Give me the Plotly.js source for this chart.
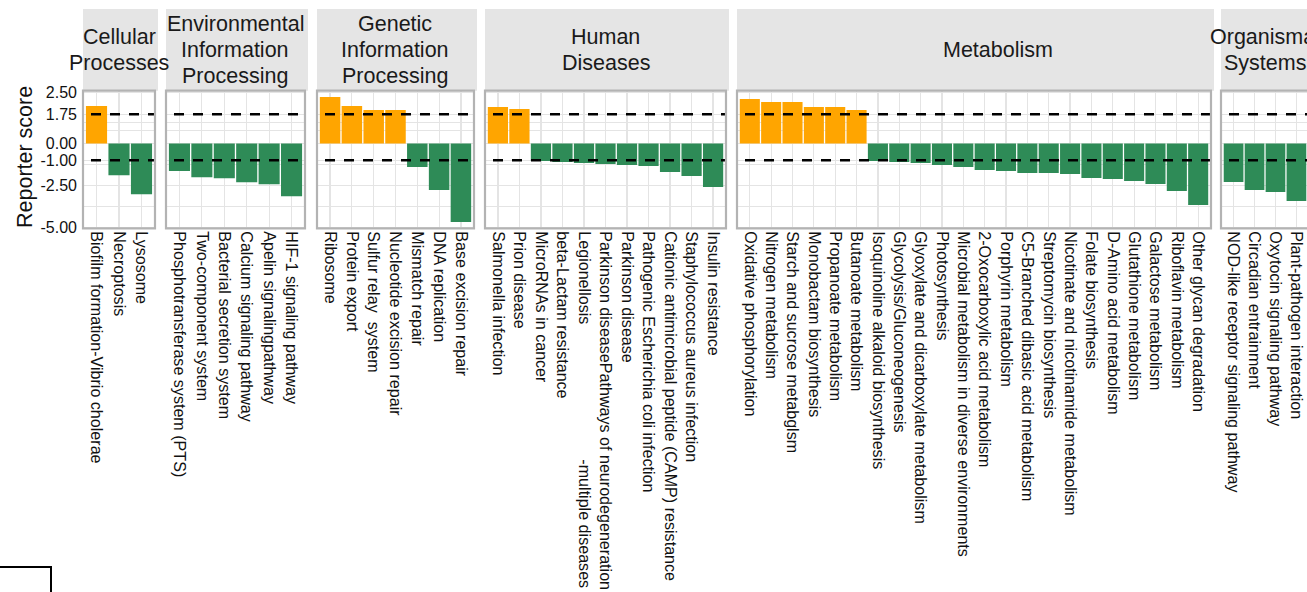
<!DOCTYPE html>
<html>
<head>
<meta charset="utf-8">
<script src="https://cdn.plot.ly/plotly-3.0.1.min.js"></script>
<style>
html,body{margin:0;padding:0;background:#fff;}
#chart{width:1307px;height:592px;}
</style>
</head>
<body>
<div id="chart"></div>
<script>
// ---------------- data ----------------
const groupNames = ['Cellular\nProcesses', 'Environmental\nInformation\nProcessing', 'Genetic\nInformation\nProcessing', 'Human\nDiseases', 'Metabolism', 'Organismal\nSystems'];

const cellularPathways = ['Biofilm formation-Vibrio cholerae', 'Necroptosis', 'Lysosome'];
const cellularScores = [2.24, -1.90, -3.04];

const environmentalPathways = ['Phosphotransferase system (PTS)', 'Two-component system', 'Bacterial secretion system', 'Calcium signaling pathway', 'Apelin signalingpathway', 'HIF-1 signaling pathway'];
const environmentalScores = [-1.64, -2.02, -2.08, -2.32, -2.44, -3.16];

const geneticPathways = ['Ribosome', 'Protein export', 'Sulfur relay  system', 'Nucleotide excision repair', 'Mismatch repair', 'DNA replication', 'Base excision repair'];
const geneticScores = [2.79, 2.24, 2.00, 2.00, -1.40, -2.78, -4.70];

const humanPathways = ['Salmonella infection', 'Prion disease', 'MicroRNAs in cancer', 'beta-Lactam resistance', 'Legionellosis', 'Parkinson diseasePathways of neurodegeneration\n-multiple diseases', 'Parkinson disease', 'Pathogenic Escherichia coli infection', 'Cationic antimicrobial peptide (CAMP) resistance', 'Staphylococcus aureus infection', 'Insulin resistance'];
const humanScores = [2.18, 2.06, -1.04, -1.10, -1.16, -1.22, -1.28, -1.34, -1.70, -1.94, -2.60];

const metabolismPathways = ['Oxidative phosphorylation', 'Nitrogen metabolism', 'Starch and sucrose metabglsm', 'Monobactam biosynthesis', 'Propanoate metabolism', 'Butanoate metabolism', 'Isoquinoline alkaloid biosynthesis', 'Glycolysis/Gluconeogenesis', 'Glyoxylate and dicarboxylate metabolism', 'Photosynthesis', 'Microbial metabolism in diverse environments', '2-Oxocarboxylic acid metabolism', 'Porphyrin metabolism', 'C5-Branched dibasic acid metabolism', 'Streptomycin biosynthesis', 'Nicotinate and nicotinamide metabolism', 'Folate biosynthesis', 'D-Amino acid metabolism', 'Glutathione metabolism', 'Galactose metabolism', 'Riboflavin metabolism', 'Other glycan degradation'];
const metabolismScores = [2.66, 2.48, 2.48, 2.18, 2.18, 2.00, -1.04, -1.10, -1.16, -1.28, -1.40, -1.58, -1.64, -1.76, -1.76, -1.82, -2.06, -2.12, -2.24, -2.42, -2.84, -3.68];

const organismalPathways = ['NOD-like receptor signaling pathway', 'Circadian entrainment', 'Oxytocin signaling pathway', 'Plant-pathogen interaction'];
const organismalScores = [-2.30, -2.78, -2.90, -3.44];

const yTickLabels = ['2.50', '1.75', '0.00', '-1.00', '-2.50', '-5.00'];
const thresholds = [1.75, -1.00];

// ---------------- layout helpers ----------------
const W = 1307, H = 592;
const FONT = '"Liberation Sans", Arial, Helvetica, sans-serif';
const TICK_SIZE = 16.1;
const STRIP_SIZE = 21.5;
const STRIP_LINE = 26;
const UP = '#FFA500', DOWN = '#2E8B57';

const groups = [
  {names: cellularPathways, vals: cellularScores},
  {names: environmentalPathways, vals: environmentalScores},
  {names: geneticPathways, vals: geneticScores},
  {names: humanPathways, vals: humanScores},
  {names: metabolismPathways, vals: metabolismScores},
  {names: organismalPathways, vals: organismalScores}
];
const panelLeft = [83, 166, 317, 485, 737, 1221];
const panelRight = [155, 305, 474, 726, 1211, 1309];
const stripTextX = [119, 235.5, 395.5, 605.5, 998, 1265];
const panelTop = 90.7, panelBottom = 228.3;
const stripTop = 9;
const yRange = [-5.07, 3.16];
const yTickPos = [3.06, 1.75, 0, -1, -2.5, -5];

const canvas = document.createElement('canvas');
const ctx = canvas.getContext('2d');
ctx.font = TICK_SIZE + 'px ' + FONT;
function fmtLabel(s) {
  const lines = s.split('\n');
  if (lines.length === 1) return s.replace(/  /g, ' \u00A0');
  const w0 = ctx.measureText(lines[0]).width;
  const wn = ctx.measureText('\u00A0').width || TICK_SIZE * 0.278;
  const padded = lines.map((l, i) => {
    if (i === 0) return l;
    const n = Math.max(0, Math.round((w0 - ctx.measureText(l).width) / wn));
    return '\u00A0'.repeat(n) + l;
  });
  // a blank leading line keeps the first text line on the tick
  return ['\u00A0'].concat(padded).join('<br>');
}

const px2x = p => p / W;
const px2y = p => 1 - p / H;

const data = [];
const layout = {
  width: W, height: H,
  margin: {l: 0, r: 0, t: 0, b: 0, pad: 0},
  paper_bgcolor: '#FFFFFF',
  plot_bgcolor: '#FFFFFF',
  showlegend: false,
  bargap: 0.06,
  font: {family: FONT, color: '#111111'},
  shapes: [],
  annotations: [],
  yaxis: {
    domain: [px2y(panelBottom), px2y(panelTop)],
    range: yRange,
    tickvals: yTickPos,
    ticktext: yTickLabels,
    tickfont: {size: 16, color: '#111111', family: FONT},
    ticks: '',
    ticklabelstandoff: 5,
    showgrid: true,
    gridcolor: '#E4E4E4',
    gridwidth: 1.2,
    zeroline: false,
    showline: false,
    automargin: false,
    fixedrange: true,
    minor: {tickvals: [1.25, 0.75, -1.25, -3.75], showgrid: true, gridcolor: '#E4E4E4', gridwidth: 1, ticks: ''}
  }
};

groups.forEach((g, i) => {
  const n = g.names.length;
  const left = panelLeft[i];
  const right = panelRight[i];
  const unit = (right - left) / (n + 0.2);
  const domRight = Math.min(right, W);
  const rEnd = -0.6 + (domRight - left) / unit;
  const axName = i === 0 ? 'xaxis' : 'xaxis' + (i + 1);
  const axRef = i === 0 ? 'x' : 'x' + (i + 1);
  const labels = g.names.map(fmtLabel);

  data.push({
    type: 'bar',
    x: labels,
    y: g.vals,
    xaxis: axRef,
    yaxis: 'y',
    marker: {color: g.vals.map(v => v >= 0 ? UP : DOWN), line: {width: 0}},
    hoverinfo: 'x+y'
  });

  layout[axName] = {
    domain: [px2x(left), px2x(domRight)],
    anchor: 'y',
    type: 'category',
    range: [-0.6, rEnd],
    tickangle: 90,
    tickfont: {size: TICK_SIZE, color: '#111111', family: FONT},
    ticks: '',
    ticklabelstandoff: 2,
    showgrid: true,
    gridcolor: '#E4E4E4',
    gridwidth: 1.2,
    zeroline: false,
    showline: false,
    automargin: false,
    fixedrange: true
  };

  // strip background
  layout.shapes.push({
    type: 'rect', xref: 'paper', yref: 'paper', layer: 'below',
    x0: px2x(left), x1: px2x(right + 3), y0: px2y(panelTop), y1: px2y(stripTop),
    fillcolor: '#E5E5E5', line: {width: 0}
  });
  // strip text, one line at a time for ggplot-like line spacing
  const lines = groupNames[i].split('\n');
  lines.forEach((ln, k) => {
    layout.annotations.push({
      xref: 'paper', yref: 'paper',
      x: px2x(stripTextX[i]), y: px2y(50 + (k - (lines.length - 1) / 2) * STRIP_LINE),
      xanchor: 'center', yanchor: 'middle',
      text: ln,
      showarrow: false,
      font: {size: STRIP_SIZE, color: '#1A1A1A', family: FONT}
    });
  });
  // threshold dashed lines
  thresholds.forEach(t => {
    layout.shapes.push({
      type: 'line', xref: axRef + ' domain', yref: 'y', layer: 'above',
      x0: 0, x1: 1, y0: t, y1: t,
      line: {color: '#000000', width: 2.6, dash: '0px,8px,10px,1px'}
    });
  });
  // panel border
  layout.shapes.push({
    type: 'rect', xref: 'paper', yref: 'paper', layer: 'above',
    x0: px2x(left), x1: px2x(right), y0: px2y(panelBottom), y1: px2y(panelTop),
    fillcolor: 'rgba(0,0,0,0)', line: {color: '#B3B3B3', width: 2.2}
  });
});

// y-axis title
layout.annotations.push({
  xref: 'paper', yref: 'paper',
  x: px2x(25), y: px2y(157),
  xanchor: 'center', yanchor: 'middle',
  text: 'Reporter score', textangle: -90, showarrow: false,
  font: {size: STRIP_SIZE, color: '#111111', family: FONT}
});

// clipped legend frame at the bottom-left corner
layout.shapes.push({
  type: 'rect', xref: 'paper', yref: 'paper', layer: 'above',
  x0: px2x(-10), x1: px2x(51), y0: px2y(610), y1: px2y(567),
  fillcolor: '#FFFFFF', line: {color: '#000000', width: 2}
});

Plotly.newPlot('chart', data, layout, {displayModeBar: false, staticPlot: true});
</script>
</body>
</html>
